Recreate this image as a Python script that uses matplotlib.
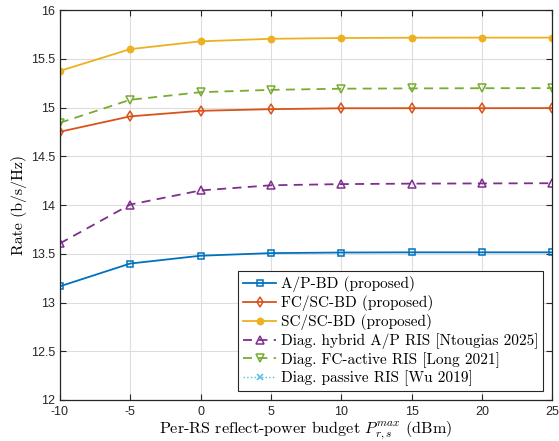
import matplotlib
matplotlib.use("Agg")
import matplotlib.pyplot as plt

plt.rcParams['mathtext.fontset'] = 'cm'

x = [-10, -5, 0, 5, 10, 15, 20, 25]
ap_bd = [13.166, 13.40, 13.48, 13.507, 13.513, 13.515, 13.515, 13.515]
fcsc_bd = [14.752, 14.91, 14.967, 14.984, 14.993, 14.994, 14.994, 14.995]
scsc_bd = [15.376, 15.60, 15.68, 15.706, 15.714, 15.717, 15.718, 15.718]
hybrid = [13.606, 14.005, 14.15, 14.203, 14.215, 14.22, 14.222, 14.224]
fc_active = [14.844, 15.08, 15.158, 15.182, 15.194, 15.197, 15.199, 15.20]
passive = [11.6, 11.6, 11.6, 11.6, 11.6, 11.6, 11.6, 11.6]

labels = ["A/P-BD (proposed)", "FC/SC-BD (proposed)", "SC/SC-BD (proposed)",
          "Diag. hybrid A/P RIS [Ntougias 2025]", "Diag. FC-active RIS [Long 2021]",
          "Diag. passive RIS [Wu 2019]"]
xticks = [-10, -5, 0, 5, 10, 15, 20, 25]
yticks = [12, 12.5, 13, 13.5, 14, 14.5, 15, 15.5, 16]

fig = plt.figure(figsize=(5.59, 4.41), dpi=100)
ax = fig.add_axes([0.107, 0.093, 0.881, 0.884])

lw = 1.3
ax.plot(x, ap_bd, '-', color='#0072BD', marker='s', mfc='none', ms=5, mew=1.1, lw=lw, label=labels[0])
ax.plot(x, fcsc_bd, '-', color='#D95319', marker='d', mfc='none', ms=5.5, mew=1.1, lw=lw, label=labels[1])
ax.plot(x, scsc_bd, '-', color='#EDB120', marker='o', mfc='#EDB120', ms=4.5, mew=1.1, lw=lw, label=labels[2])
ax.plot(x, hybrid, '--', color='#7E2F8E', marker='^', mfc='none', ms=6, mew=1.1, lw=lw, dashes=(5, 3.5), label=labels[3])
ax.plot(x, fc_active, '--', color='#77AC30', marker='v', mfc='none', ms=6, mew=1.1, lw=lw, dashes=(5, 3.5), label=labels[4])
ax.plot(x, passive, ':', color='#4DBEEE', marker='x', ms=4, mew=1.1, lw=1.0, label=labels[5])

ax.set_xlim(-10, 25)
ax.set_ylim(12, 16)
ax.set_xticks(xticks)
ax.set_yticks(yticks)
ax.set_xticklabels([str(t) for t in xticks])
ax.set_yticklabels(['12', '12.5', '13', '13.5', '14', '14.5', '15', '15.5', '16'])
ax.tick_params(direction='in', top=True, right=True, length=4, width=0.8,
               labelsize=9, colors='#262626')
ax.tick_params(axis='x', pad=4.5)
ax.tick_params(axis='y', pad=3.5)
for lab in ax.get_xticklabels() + ax.get_yticklabels():
    lab.set_family('Liberation Sans')
for s in ax.spines.values():
    s.set_color('#262626')
    s.set_linewidth(0.9)
ax.grid(True, color='#dddddd', lw=0.8)
ax.set_axisbelow(True)

ax.set_xlabel(r"Per-RS reflect-power budget $P_{r,s}^{max}$ (dBm)", family='cmr10', fontsize=11.6, labelpad=0.5)
ax.set_ylabel("Rate (b/s/Hz)", family='cmr10', fontsize=11.4, labelpad=2.5)

leg = ax.legend(loc='lower right', prop={'family': 'cmr10', 'size': 11}, fancybox=False,
                edgecolor='#262626', framealpha=1, borderaxespad=0.6, handlelength=2.2,
                handletextpad=0.3, labelspacing=0.2, borderpad=0.3)
leg.get_frame().set_linewidth(0.8)

fig.savefig("out.png", dpi=100)
